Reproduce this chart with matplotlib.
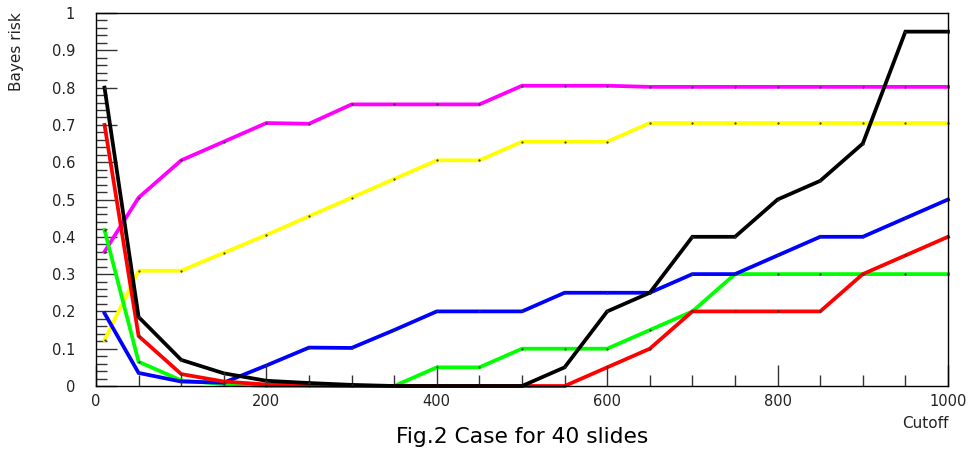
import matplotlib
matplotlib.use("Agg")
import matplotlib.pyplot as plt
from matplotlib.ticker import MultipleLocator

cutoff = [10, 50, 100, 150, 200, 250, 300, 350, 400, 450, 500,
          550, 600, 650, 700, 750, 800, 850, 900, 950, 1000]

black = [0.80, 0.185, 0.07, 0.034, 0.014, 0.008, 0.003, 0.0, 0.0, 0.0, 0.0,
         0.05, 0.20, 0.25, 0.40, 0.40, 0.50, 0.55, 0.65, 0.95, 0.95]
red = [0.70, 0.134, 0.032, 0.012, 0.004, 0.002, 0.0, 0.0, 0.0, 0.0, 0.0,
       0.0, 0.05, 0.10, 0.20, 0.20, 0.20, 0.20, 0.30, 0.35, 0.40]
green = [0.418, 0.065, 0.015, 0.005, 0.0, 0.0, 0.0, 0.0, 0.05, 0.05, 0.10,
         0.10, 0.10, 0.15, 0.20, 0.30, 0.30, 0.30, 0.30, 0.30, 0.30]
blue = [0.195, 0.035, 0.012, 0.009, 0.055, 0.103, 0.102, 0.15, 0.20, 0.20, 0.20,
        0.25, 0.25, 0.25, 0.30, 0.30, 0.35, 0.40, 0.40, 0.45, 0.50]
magenta = [0.36, 0.505, 0.605, 0.655, 0.705, 0.703, 0.755, 0.755, 0.755, 0.755, 0.805,
           0.805, 0.805, 0.802, 0.802, 0.802, 0.802, 0.802, 0.802, 0.802, 0.802]
yellow = [0.123, 0.309, 0.309, 0.357, 0.405, 0.455, 0.505, 0.555, 0.605, 0.605, 0.655,
          0.655, 0.655, 0.705, 0.705, 0.705, 0.705, 0.705, 0.705, 0.705, 0.705]

series = [(magenta, "#ff00ff"), (yellow, "#ffff00"), (green, "#00ff00"),
          (blue, "#0000ff"), (red, "#ff0000"), (black, "#000000")]

fig = plt.figure(figsize=(9.72, 4.5), dpi=100)
ax = fig.add_axes([96/972, 1-386/450, (948-96)/972, (386-13)/450])
ax.set_axisbelow(True)

for vals, col in series:
    ax.plot(cutoff, vals, color=col, lw=2.7, solid_joinstyle="miter",
            marker=".", markersize=1.2, markerfacecolor="#333333",
            markeredgecolor="#333333", clip_on=False, zorder=3)

ax.set_xlim(0, 1000)
ax.set_ylim(0, 1)
ax.xaxis.set_major_locator(MultipleLocator(200))
ax.xaxis.set_minor_locator(MultipleLocator(50))
ax.yaxis.set_major_locator(MultipleLocator(0.1))
ax.yaxis.set_minor_locator(MultipleLocator(0.02))
ax.tick_params(which="both", direction="in", top=False, right=False,
               color="#333333", width=1)
ax.tick_params(which="major", length=15, labelsize=10.5)
ax.tick_params(which="minor", length=8)
ax.tick_params(axis="y", which="major", pad=15)
ax.tick_params(axis="x", which="major", pad=6)
ax.set_yticks([0, 0.1, 0.2, 0.3, 0.4, 0.5, 0.6, 0.7, 0.8, 0.9, 1.0])
ax.set_yticklabels(["0", "0.1", "0.2", "0.3", "0.4", "0.5", "0.6", "0.7", "0.8", "0.9", "1"])
for lbl in ax.get_xticklabels() + ax.get_yticklabels():
    lbl.set_color("#222222")
for s in ax.spines.values():
    s.set_linewidth(1)
    s.set_zorder(4)

fig.text(17/972, 1-52/450, "Bayes risk", rotation=90, ha="center", va="center",
         fontsize=11, color="#222222")
fig.text(948/972, 1-424/450, "Cutoff", ha="right", va="center", fontsize=11,
         color="#222222")
fig.text(522/972, 1-437/450, "Fig.2 Case for 40 slides", ha="center", va="center",
         fontsize=15.7)

fig.savefig("out.png", dpi=100)
